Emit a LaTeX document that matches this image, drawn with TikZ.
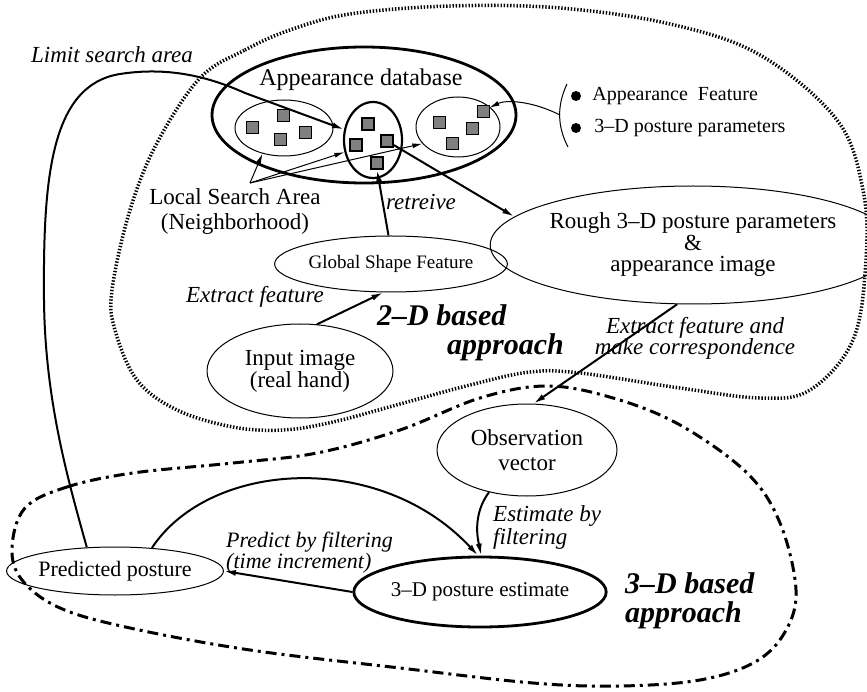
\documentclass[tikz,border=0pt]{standalone}
\usepackage{fontspec}
\setmainfont{Liberation Serif}
\usepackage{tikz}
\usetikzlibrary{arrows.meta,shapes.geometric,positioning}

\tikzset{
  txt/.style={font=\fontsize{23}{25}\selectfont, inner sep=0pt},
  lbl/.style={font=\fontsize{23}{23}\selectfont\itshape, inner sep=0pt},
  big/.style={font=\fontsize{30}{29}\selectfont\bfseries\itshape, inner sep=0pt},
  ell/.style={draw, ellipse, line width=1pt, inner sep=0pt, align=center},
  thkell/.style={draw, ellipse, line width=2.8pt, inner sep=0pt, align=center},
  sq/.style={draw, fill=black!50, minimum size=12pt, inner sep=0pt, line width=0.8pt},
  sqb/.style={sq, line width=1.8pt},
  dot/.style={circle, fill, minimum size=10pt, inner sep=0pt},
  arr/.style={line width=2pt, -{Latex[length=12pt,width=6pt]}},
  thinarr/.style={line width=1pt, -{Latex[length=10pt,width=5pt]}},
  dotbd/.style={line width=3.5pt, dash pattern=on 1.4pt off 1.8pt},
  dashbd/.style={line width=3pt, dash pattern=on 11pt off 5pt on 3pt off 5pt}
}

\begin{document}
\begin{tikzpicture}[x=1pt,y=1pt]
\useasboundingbox (0,0) rectangle (867,-692);

% the two regions
\draw[dotbd] plot[smooth cycle, tension=0.6] coordinates {
  (200,-78) (245,-50) (290,-30) (350,-14) (450,-6) (560,-8) (670,-24)
  (760,-55) (837,-120) (863,-190) (866,-260) (853,-340) (810,-390)
  (760,-398) (680,-388) (580,-373) (530,-372) (470,-385) (400,-404)
  (333,-422) (283,-430) (233,-427) (177,-410) (137,-380) (115,-330)
  (112,-290) (130,-210) (157,-143)};
\draw[dashbd] plot[smooth cycle, tension=0.6] coordinates {
  (25,-508) (67,-487) (133,-473) (233,-463) (317,-453) (400,-430)
  (480,-398) (547,-386) (613,-398) (680,-425) (747,-473) (780,-523)
  (796,-590) (785,-632) (755,-662) (700,-680) (620,-686) (533,-683)
  (400,-668) (250,-650) (130,-628) (60,-608) (22,-580) (12,-548)};

% appearance database
\node[thkell, minimum width=304pt, minimum height=136pt] (db) at (364,-115) {};
\node[txt, font=\fontsize{24}{26}\selectfont] (dbt) at (361,-80) {Appearance database};
\node[ell, minimum width=98pt, minimum height=56pt] (lsub) at (284,-128) {};
\node[thkell, line width=2.2pt, minimum width=58pt, minimum height=76pt] (mid) at (373,-140) {};
\node[ell, minimum width=84pt, minimum height=60pt] (rsub) at (458,-127) {};
\foreach \n/\x/\y in {1/252/127, 2/283/115, 3/280/139, 4/305/132}
  \node[sq] (ls\n) at (\x,-\y) {};
\foreach \n/\x/\y in {1/368/124, 2/356/145, 3/387/141, 4/377/163}
  \node[sqb] (ms\n) at (\x,-\y) {};
\foreach \n/\x/\y in {1/439/122, 2/483/111, 3/472/128, 4/452/143}
  \node[sq] (rs\n) at (\x,-\y) {};

% legend
\coordinate (brka) at (567,-84);
\coordinate (brkb) at (568,-147);
\coordinate (brkm) at (560,-115);
\draw[line width=1pt] (brka) .. controls (557,-105) and (557,-126) .. (brkb);
\draw[thinarr] (brkm) .. controls (530,-100) and (505,-100) .. (rs2);
\node[dot] (b1) at (576,-96) {};
\node[dot] (b2) at (576,-128) {};
\node[txt, font=\fontsize{20}{22}\selectfont, right=11pt of b1] (lg1) {Appearance\ \ Feature};
\node[txt, font=\fontsize{20}{22}\selectfont, right=13pt of b2] (lg2) {3--D posture parameters};

% local search area
\node[txt, align=center] (lsa) at (235,-212) {Local Search Area\\(Neighborhood)};
\coordinate (lsap) at (250,-183);
\draw[thinarr] (lsap) -- (lsub.230);
\draw[thinarr] (lsap) -- (mid.203);
\draw[thinarr] (lsap) -- (rsub.205);

% 2-D based part
\node[ell, font=\fontsize{19}{21}\selectfont, minimum width=184pt, minimum height=56pt] (glob) at (391,-264) {Global Shape Feature};
\node[ell, font=\fontsize{23}{22}\selectfont, minimum width=186pt, minimum height=94pt] (inp) at (300,-371) {Input image\\(real hand)};
\node[ell, font=\fontsize{23}{21.5}\selectfont, minimum width=346pt, minimum height=118pt] (rough) at (693,-245) {Rough 3--D posture parameters\\\&\\appearance image};
\draw[arr] (glob.95) -- (ms4.south);
\draw[arr] (inp.70) -- (glob.255);
\draw[arr] (ms3) -- (rough.171);
\node[lbl] (ret) at (421,-202) {retreive};
\node[lbl] (exf) at (255,-297) {Extract feature};
\node[big, align=left, anchor=west] (twod) at (377,-333) {2--D based\\\hspace*{70pt}approach};
\node[lbl, align=center, font=\fontsize{23}{21}\selectfont\itshape] (exc) at (695,-338) {Extract feature and\\make correspondence};

% 3-D based part
\node[ell, font=\fontsize{23}{25}\selectfont, minimum width=180pt, minimum height=92pt] (obs) at (527,-450) {Observation\\vector};
\node[thkell, font=\fontsize{21}{23}\selectfont, minimum width=212pt, minimum height=70pt] (est) at (480,-592) {3--D posture estimate};
\node[ell, font=\fontsize{22}{24}\selectfont, minimum width=184pt, minimum height=48pt] (pred) at (115,-571) {Predicted posture};
\draw[arr] (rough.255) -- (obs.82);
\draw[arr] (obs.228) .. controls (472,-515) and (478,-540) .. (est.88);
\draw[arr] (pred.32) .. controls (210,-460) and (380,-450) .. (est.93);
\draw[arr] (est.west) -- (pred.east);
\node[lbl, align=left, anchor=west] (ebf) at (493,-527) {Estimate by\\filtering};
\node[lbl, align=left, anchor=west, font=\fontsize{22}{20}\selectfont\itshape] (pbf) at (226,-553) {Predict by filtering\\(time increment)};
\node[big, align=left, anchor=west] (threed) at (625,-601) {3--D based\\approach};

% feedback to the database
\node[lbl] (lim) at (112,-55) {Limit search area};
\draw[arr] (pred.140) .. controls (68,-480) and (45,-400) .. (44,-300)
  .. controls (43,-180) and (50,-85) .. (120,-74)
  .. controls (165,-67) and (205,-75) .. (245,-93) -- (mid.160);
\end{tikzpicture}
\end{document}
